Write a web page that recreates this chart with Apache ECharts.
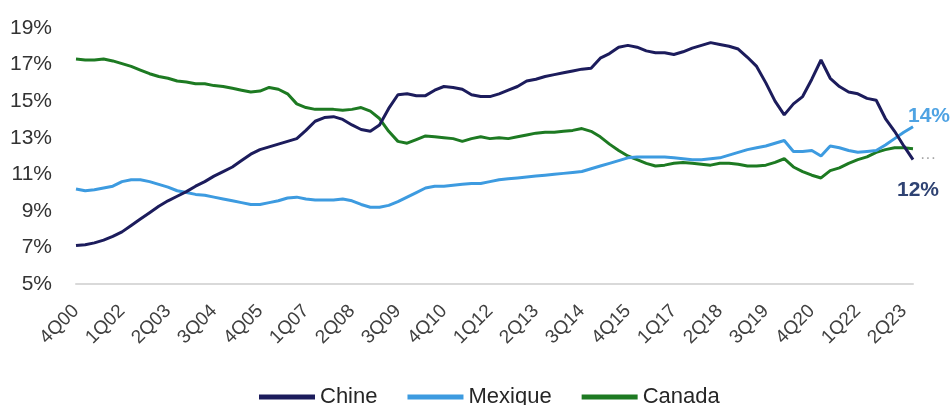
<!DOCTYPE html>
<html>
<head>
<meta charset="utf-8">
<script src="https://cdn.jsdelivr.net/npm/echarts@6/dist/echarts.min.js"></script>
<style>
  html, body { margin: 0; padding: 0; background: #fff; }
  #chart { width: 952px; height: 405px; }
</style>
</head>
<body>
<div id="chart"></div>
<script>
// trimestres 4Q00 -> 3Q23
const quarters = []
for (let y = 0; y <= 23; y++) {
  for (let q = 1; q <= 4; q++) {
    if (y === 0 && q < 4) continue
    if (y === 23 && q > 3) continue
    quarters.push(q + 'Q' + String(y).padStart(2, '0'))
  }
}

const chine = [
  7.1, 7.15, 7.25, 7.4, 7.6, 7.85, 8.2, 8.55, 8.9, 9.25,
  9.55, 9.8, 10.05, 10.35, 10.6, 10.9, 11.15, 11.4, 11.75, 12.1,
  12.35, 12.5, 12.65, 12.8, 12.95, 13.4, 13.9, 14.1, 14.15, 14.0,
  13.7, 13.45, 13.35, 13.7, 14.6, 15.35, 15.4, 15.3, 15.3, 15.6,
  15.8, 15.75, 15.65, 15.35, 15.25, 15.25, 15.4, 15.6, 15.8, 16.1,
  16.2, 16.35, 16.45, 16.55, 16.65, 16.75, 16.8, 17.35, 17.6, 17.95,
  18.05, 17.95, 17.75, 17.65, 17.65, 17.55, 17.7, 17.9, 18.05, 18.2,
  18.1, 18.0, 17.85, 17.4, 16.9, 16.0, 15.0, 14.25, 14.85, 15.25,
  16.2, 17.25, 16.25, 15.8, 15.5, 15.4, 15.15, 15.05, 14.05, 13.35,
  12.55, 11.8
]

const mexique = [
  10.2, 10.1, 10.15, 10.25, 10.35, 10.6, 10.7, 10.7, 10.6, 10.45,
  10.3, 10.1, 10.0, 9.9, 9.85, 9.75, 9.65, 9.55, 9.45, 9.35,
  9.35, 9.45, 9.55, 9.7, 9.75, 9.65, 9.6, 9.6, 9.6, 9.65,
  9.55, 9.35, 9.2, 9.2, 9.3, 9.5, 9.75, 10.0, 10.25, 10.35,
  10.35, 10.4, 10.45, 10.5, 10.5, 10.6, 10.7, 10.75, 10.8, 10.85,
  10.9, 10.95, 11.0, 11.05, 11.1, 11.15, 11.3, 11.45, 11.6, 11.75,
  11.9, 11.95, 11.95, 11.95, 11.95, 11.9, 11.85, 11.8, 11.8, 11.85,
  11.9, 12.05, 12.2, 12.35, 12.45, 12.55, 12.7, 12.85, 12.25, 12.25,
  12.3, 12.0, 12.55, 12.45, 12.3, 12.2, 12.25, 12.3, 12.6, 12.95,
  13.3, 13.6
]

const canada = [
  17.3, 17.25, 17.25, 17.3, 17.2, 17.05, 16.9, 16.7, 16.5, 16.35,
  16.25, 16.1, 16.05, 15.95, 15.95, 15.85, 15.8, 15.7, 15.6, 15.5,
  15.55, 15.75, 15.65, 15.4, 14.85, 14.65, 14.55, 14.55, 14.55, 14.5,
  14.55, 14.65, 14.45, 14.05, 13.35, 12.8, 12.7, 12.9, 13.1, 13.05,
  13.0, 12.95, 12.8, 12.95, 13.05, 12.95, 13.0, 12.95, 13.05, 13.15,
  13.25, 13.3, 13.3, 13.35, 13.4, 13.5, 13.35, 13.05, 12.65, 12.3,
  12.0, 11.8, 11.6, 11.45, 11.5, 11.6, 11.65, 11.6, 11.55, 11.5,
  11.6, 11.6, 11.55, 11.45, 11.45, 11.5, 11.65, 11.85, 11.4, 11.15,
  10.95, 10.8, 11.2, 11.35, 11.6, 11.8, 11.95, 12.2, 12.35, 12.45,
  12.45, 12.4
]

const seriesNames = ['Chine', 'Mexique', 'Canada']
const colors = ['#1c1c5c', '#3d9be0', '#1d7a22']
const endLabels = ['12%', '14%', null]

const font = 'Liberation Sans, Arial, sans-serif'

let chart = echarts.init(document.getElementById('chart'))

function seriesData () {
  let item = []
  ;[chine, mexique, canada].forEach((data, index) => {
    let s = {
      name: seriesNames[index],
      type: 'line',
      data: data,
      symbol: 'none',
      smooth: false,
      lineStyle: { width: 3, color: colors[index] },
      itemStyle: { color: colors[index] },
      z: 3 - index
    }
    if (endLabels[index]) {
      s.endLabel = {
        show: true,
        formatter: endLabels[index],
        fontFamily: font,
        fontSize: 21,
        fontWeight: 'bold',
        color: index === 0 ? '#2f4373' : '#4fa3e3',
        offset: index === 0 ? [-24, 31] : [-13, -11]
      }
    }
    item.push(s)
  })
  return item
}

let option = {
  animation: false,
  backgroundColor: '#fff',
  grid: {
    left: 76,
    right: 39,
    top: 28,
    bottom: 121
  },
  legend: {
    data: seriesNames,
    top: 381,
    left: 254,
    icon: 'rect',
    itemWidth: 56,
    itemHeight: 5,
    itemGap: 30,
    textStyle: { fontFamily: font, fontSize: 22, color: '#262626' }
  },
  xAxis: {
    type: 'category',
    data: quarters,
    boundaryGap: false,
    axisLine: { lineStyle: { color: '#d9d9d9', width: 2 } },
    axisTick: { show: false },
    axisLabel: {
      interval: 4,
      rotate: 45,
      margin: 24,
      fontFamily: font,
      fontSize: 19,
      color: '#404040'
    },
    splitLine: { show: false }
  },
  yAxis: {
    type: 'value',
    min: 5,
    max: 19,
    interval: 2,
    axisLine: { show: false },
    axisTick: { show: false },
    splitLine: { show: false },
    axisLabel: {
      formatter: '{value}%',
      margin: 24,
      fontFamily: font,
      fontSize: 21,
      color: '#333333'
    }
  },
  graphic: [
    {
      type: 'text',
      left: 920,
      top: 151,
      style: { text: '···', fill: '#a6a6a6', font: '16px ' + font }
    }
  ],
  series: seriesData()
}

chart.setOption(option)
window.addEventListener('resize', () => {
  chart.resize()
})
</script>
</body>
</html>
